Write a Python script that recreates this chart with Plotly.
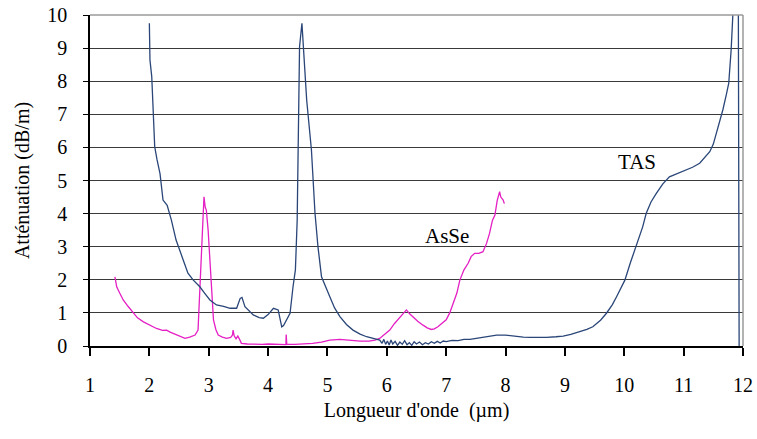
import plotly.graph_objects as go

# TAS fibre attenuation (dB/m) vs wavelength (µm)
tas_x = [2.00, 2.005, 2.01, 2.04, 2.07, 2.09, 2.13, 2.18, 2.23, 2.30, 2.37, 2.45, 2.57, 2.65, 2.74,
         2.85, 2.93, 3.02, 3.13, 3.25, 3.36, 3.47, 3.53, 3.56, 3.61, 3.75, 3.85, 3.92, 4.00, 4.09,
         4.17, 4.21, 4.23, 4.26, 4.28, 4.33, 4.37, 4.42, 4.46, 4.49, 4.51, 4.53, 4.57, 4.60, 4.65,
         4.73, 4.79, 4.84, 4.90, 5.04, 5.12, 5.21, 5.32, 5.43, 5.55, 5.66, 5.78, 5.88, 5.92, 5.95,
         5.98, 6.01, 6.04, 6.07, 6.10, 6.14, 6.18, 6.22, 6.26, 6.30, 6.34, 6.38, 6.42, 6.46, 6.50,
         6.55, 6.60, 6.65, 6.70, 6.75, 6.80, 6.85, 6.90, 6.95, 7.00, 7.10, 7.20, 7.30, 7.40, 7.50,
         7.60, 7.70, 7.85, 8.00, 8.13, 8.30, 8.41, 8.55, 8.69, 8.85, 8.97, 9.10, 9.25, 9.37, 9.47,
         9.60, 9.70, 9.80, 9.87, 9.95, 10.01, 10.10, 10.20, 10.31, 10.37, 10.45, 10.54, 10.65, 10.76,
         10.90, 11.05, 11.15, 11.27, 11.36, 11.44, 11.50, 11.55, 11.61, 11.66, 11.72, 11.76, 11.80,
         11.84, 11.87, 11.92, 11.935]
tas_y = [9.75, 9.30, 8.64, 8.14, 7.03, 6.02, 5.62, 5.20, 4.41, 4.25, 3.81, 3.20, 2.60, 2.20, 1.99,
         1.79, 1.60, 1.39, 1.24, 1.20, 1.14, 1.14, 1.44, 1.47, 1.19, 0.94, 0.86, 0.84, 0.95, 1.14,
         1.09, 0.80, 0.58, 0.62, 0.68, 0.85, 0.99, 1.79, 2.30, 3.80, 6.00, 9.04, 9.75, 8.94, 7.43,
         5.92, 4.02, 3.00, 2.09, 1.49, 1.15, 0.89, 0.65, 0.48, 0.36, 0.28, 0.22, 0.18, 0.08, 0.20,
         0.05, 0.15, 0.03, 0.18, 0.06, 0.14, 0.02, 0.12, 0.05, 0.16, 0.04, 0.10, 0.02, 0.13, 0.06,
         0.12, 0.04, 0.10, 0.06, 0.13, 0.08, 0.14, 0.09, 0.15, 0.13, 0.17, 0.16, 0.20, 0.20, 0.23,
         0.26, 0.30, 0.33, 0.33, 0.30, 0.27, 0.26, 0.25, 0.26, 0.28, 0.30, 0.35, 0.43, 0.50, 0.58,
         0.78, 0.99, 1.25, 1.49, 1.80, 1.99, 2.50, 3.00, 3.60, 4.01, 4.35, 4.61, 4.90, 5.11,
         5.22, 5.32, 5.40, 5.52, 5.70, 5.87, 6.10, 6.42, 6.80, 7.13, 7.60, 7.94, 8.94,
         10.00, 11.50, 11.50, 0.00]

# AsSe fibre attenuation
asse_x = [1.42, 1.45, 1.50, 1.56, 1.64, 1.73, 1.80, 1.90, 2.00, 2.12, 2.22, 2.29, 2.35, 2.46, 2.55,
          2.60, 2.68, 2.77, 2.82, 2.85, 2.88, 2.90, 2.92, 2.94, 2.96, 2.99, 3.03, 3.06, 3.08, 3.12,
          3.16, 3.23, 3.30, 3.37, 3.40, 3.41, 3.43, 3.46, 3.49, 3.52, 3.55, 3.65, 3.75, 3.90, 4.00,
          4.15, 4.30, 4.305, 4.315, 4.45, 4.60, 4.75, 4.90, 5.04, 5.21, 5.35, 5.55, 5.70, 5.80, 5.88,
          5.96, 6.05, 6.13, 6.22, 6.28, 6.33, 6.38, 6.44, 6.52, 6.61, 6.68, 6.75, 6.80, 6.86, 6.93,
          7.00, 7.06, 7.12, 7.18, 7.23, 7.30, 7.37, 7.42, 7.48, 7.55, 7.62, 7.68, 7.73, 7.78, 7.82,
          7.86, 7.90, 7.92, 7.96, 7.98]
asse_y = [2.09, 1.79, 1.60, 1.39, 1.20, 0.99, 0.85, 0.73, 0.63, 0.53, 0.47, 0.48, 0.42, 0.33, 0.26,
          0.23, 0.27, 0.33, 0.48, 1.79, 3.20, 3.90, 4.51, 4.20, 4.10, 3.50, 2.30, 1.30, 0.79, 0.50,
          0.33, 0.27, 0.23, 0.26, 0.33, 0.48, 0.30, 0.22, 0.30, 0.20, 0.08, 0.06, 0.05, 0.05, 0.06,
          0.04, 0.04, 0.35, 0.05, 0.05, 0.06, 0.08, 0.12, 0.18, 0.20, 0.17, 0.15, 0.15, 0.18, 0.23,
          0.35, 0.48, 0.68, 0.88, 1.00, 1.09, 0.98, 0.88, 0.75, 0.63, 0.55, 0.50, 0.52, 0.58, 0.68,
          0.79, 1.00, 1.29, 1.60, 1.99, 2.30, 2.50, 2.70, 2.80, 2.80, 2.85, 3.10, 3.40, 3.80, 3.95,
          4.40, 4.66, 4.50, 4.41, 4.30]

x_ticks = list(range(1, 13))
y_ticks = list(range(0, 11))
labels = {"TAS": (10.22, 5.56), "AsSe": (7.01, 3.32)}

serif = "Liberation Serif"

fig = go.Figure()
fig.add_trace(go.Scatter(x=asse_x, y=asse_y, mode="lines",
                         line=dict(color="#e41fc4", width=1.3), showlegend=False))
fig.add_trace(go.Scatter(x=tas_x, y=tas_y, mode="lines",
                         line=dict(color="#2a4678", width=1.3), showlegend=False))

for name, (lx, ly) in labels.items():
    fig.add_annotation(x=lx, y=ly, text=name, showarrow=False,
                       font=dict(family=serif, size=21, color="black"))

# grey frame at top and right
fig.add_shape(type="line", xref="paper", yref="paper", x0=0, x1=1, y0=1, y1=1,
              line=dict(color="#9a9a9a", width=1.5), layer="above")
fig.add_shape(type="line", xref="paper", yref="paper", x0=1, x1=1, y0=0, y1=1,
              line=dict(color="#9a9a9a", width=1.5), layer="above")

fig.update_layout(
    width=757, height=439,
    margin=dict(l=90, r=14, t=15, b=93),
    paper_bgcolor="white", plot_bgcolor="white",
    font=dict(family=serif, size=20, color="black"),
    xaxis=dict(range=[1, 12], tickvals=x_ticks, showgrid=False, zeroline=False,
               automargin=False, ticklabeloverflow="allow",
               showline=True, linecolor="black", linewidth=1.5,
               ticks="outside", ticklen=8, tickwidth=1.5, tickcolor="black",
               ticklabelstandoff=12,
               tickfont=dict(family=serif, size=20, color="black"),
               title=dict(text="Longueur d'onde  (µm)", standoff=8,
                          font=dict(family=serif, size=20, color="black"))),
    yaxis=dict(range=[0, 10], tickvals=y_ticks, showgrid=True, gridcolor="#3a3a3a",
               gridwidth=1.2, zeroline=False, automargin=False, ticklabeloverflow="allow",
               showline=True, linecolor="black", linewidth=1.5,
               ticks="outside", ticklen=5, tickwidth=1.2, tickcolor="black",
               ticklabelstandoff=12,
               tickfont=dict(family=serif, size=20, color="black"),
               title=dict(text="Atténuation (dB/m)", standoff=12,
                          font=dict(family=serif, size=20, color="black"))),
)

# remove the default 8px page margin so the figure fills the window exactly
fig.write_html("out.html", config={"displayModeBar": False},
               post_script="document.body.style.margin='0px';")
